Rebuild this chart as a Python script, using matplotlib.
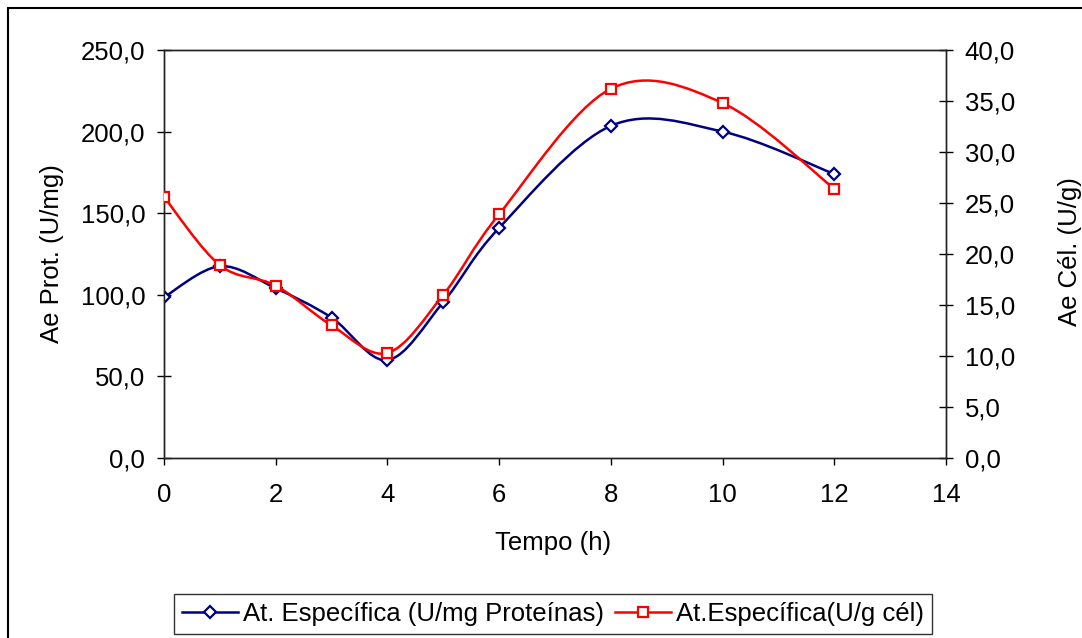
import numpy as np
import matplotlib
matplotlib.use("Agg")
import matplotlib.pyplot as plt
from matplotlib.path import Path
from matplotlib.patches import PathPatch, Rectangle
from matplotlib.lines import Line2D

plt.rcParams['font.family'] = ['Liberation Sans', 'DejaVu Sans']

# dados
tempo = [0, 1, 2, 3, 4, 5, 6, 8, 10, 12]
ae_prot = [98.5, 117.5, 104.0, 86.0, 60.0, 95.5, 141.0, 203.5, 200.0, 174.0]
ae_cel = [25.6, 18.9, 16.9, 13.0, 10.3, 16.0, 23.9, 36.2, 34.8, 26.4]

azul = '#000080'
vermelho = '#FF0000'
fs = 18.5


def suave(x, y):
    # curva suavizada tipo Excel (Catmull-Rom em Bezier)
    p = np.column_stack([x, y]).astype(float)
    n = len(p)
    verts = [p[0]]
    codes = [Path.MOVETO]
    for i in range(n - 1):
        p0 = p[i - 1] if i > 0 else p[i]
        p3 = p[i + 2] if i + 2 < n else p[i + 1]
        c1 = p[i] + (p[i + 1] - p0) / 6.0
        c2 = p[i + 1] - (p3 - p[i]) / 6.0
        verts += [c1, c2, p[i + 1]]
        codes += [Path.CURVE4] * 3
    return Path(verts, codes)


def virgula(v, pos=None):
    return f"{v:.1f}".replace('.', ',')


fig = plt.figure(figsize=(10.82, 6.38), dpi=100)
ax = fig.add_axes([164 / 1082, 1 - 458 / 638, (946 - 164) / 1082, (458 - 50) / 638])
ax2 = ax.twinx()

ax.add_patch(PathPatch(suave(tempo, ae_prot), fill=False, edgecolor=azul, lw=1.8, zorder=2))
ax.plot(tempo, ae_prot, ls='none', marker='D', ms=6, mfc='white', mec=azul, mew=1.6, zorder=3)

ax2.add_patch(PathPatch(suave(tempo, ae_cel), fill=False, edgecolor=vermelho, lw=1.8, zorder=2))
ax2.plot(tempo, ae_cel, ls='none', marker='s', ms=7, mfc='white', mec=vermelho, mew=1.6, zorder=3)

ax.set_xlim(0, 14)
ax.set_ylim(0, 250)
ax2.set_ylim(0, 40)
ax.set_xticks(range(0, 15, 2))
ax.set_yticks(np.arange(0, 251, 50))
ax2.set_yticks(np.arange(0, 41, 5))
ax.yaxis.set_major_formatter(plt.FuncFormatter(virgula))
ax2.yaxis.set_major_formatter(plt.FuncFormatter(virgula))

ax.tick_params(axis='x', direction='out', length=5, width=1, labelsize=fs, pad=13)
ax.tick_params(axis='y', direction='inout', length=10, width=1, labelsize=fs, pad=8.5)
ax2.tick_params(axis='y', direction='inout', length=10, width=1, labelsize=fs, pad=8.5)

for a in (ax, ax2):
    for s in a.spines.values():
        s.set_color('#222222')
        s.set_linewidth(1.0)

ax.set_xlabel('Tempo (h)', fontsize=fs)
ax.set_ylabel('Ae Prot. (U/mg)', fontsize=fs)
ax2.set_ylabel('Ae Cél. (U/g)', fontsize=fs)
ax.xaxis.set_label_coords(553 / 1082, 1 - 543 / 638, transform=fig.transFigure)
ax.xaxis.label.set_va('center')
ax.yaxis.set_label_coords(52 / 1082, 1 - 254 / 638, transform=fig.transFigure)
ax.yaxis.label.set_va('center')
ax2.yaxis.set_label_coords(1070 / 1082, 1 - 252 / 638, transform=fig.transFigure)
ax2.yaxis.label.set_va('center')

handles = [
    Line2D([], [], color=azul, lw=1.8, marker='D', ms=6, mfc='white', mec=azul, mew=1.6),
    Line2D([], [], color=vermelho, lw=1.8, marker='s', ms=7, mfc='white', mec=vermelho, mew=1.6),
]
leg = fig.legend(handles, ['At. Específica (U/mg Proteínas)', 'At.Específica(U/g cél)'],
                 loc='center', bbox_to_anchor=(553 / 1082, 1 - 614 / 638), ncol=2,
                 fontsize=fs, frameon=True, fancybox=False, edgecolor='black',
                 handlelength=2.2, handletextpad=0.2, columnspacing=0.4,
                 borderpad=0.3, borderaxespad=0)
leg.get_frame().set_linewidth(1.0)

fig.patches.append(Rectangle((8 / 1082, -0.05), 1.2, 1 - 8 / 638 + 0.05,
                             transform=fig.transFigure, fill=False,
                             edgecolor='black', lw=1.5, clip_on=False))

fig.savefig('out.png', dpi=100)
